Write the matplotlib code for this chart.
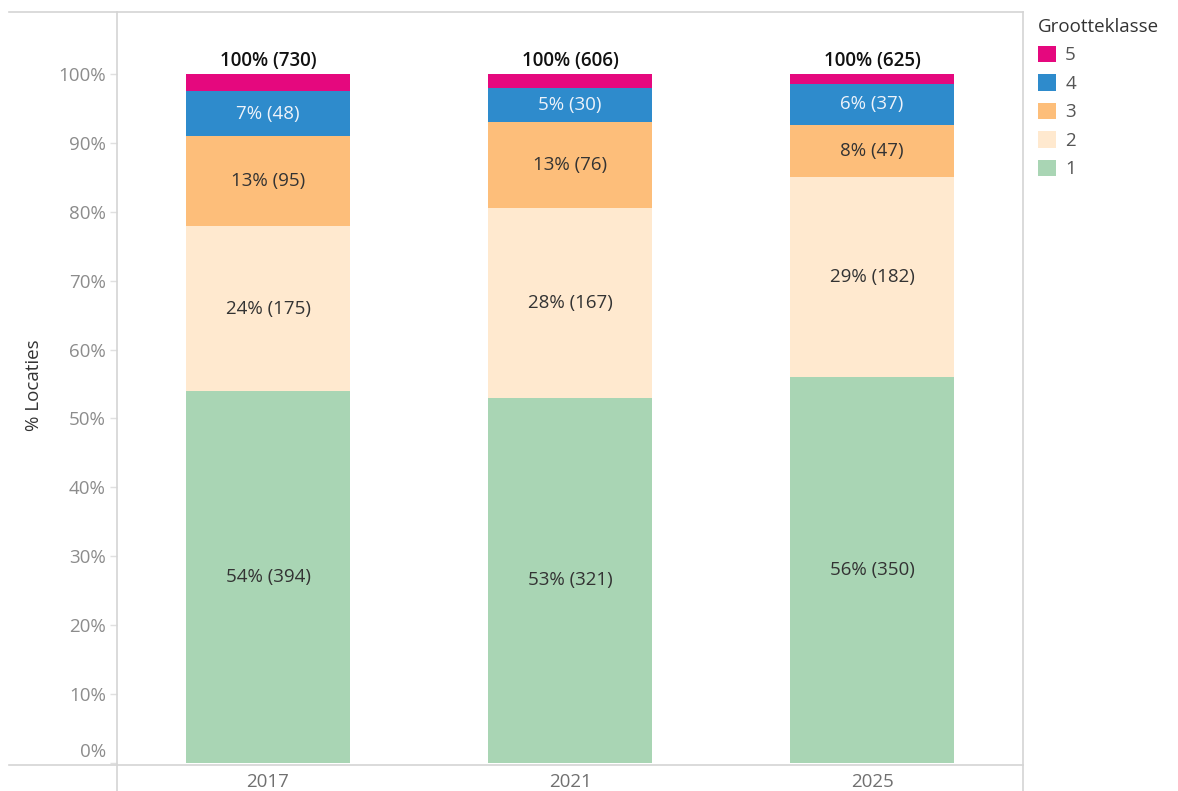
import matplotlib
matplotlib.use("Agg")
import matplotlib.pyplot as plt
import matplotlib.transforms as mtransforms
from matplotlib.patches import Patch
from matplotlib.lines import Line2D

plt.rcParams['font.family'] = ['Open Sans', 'DejaVu Sans']

# data: aantal locaties per grootteklasse
jaren = ['2017', '2021', '2025']
klassen = ['1', '2', '3', '4', '5']
klasse1 = [394, 321, 350]
klasse2 = [175, 167, 182]
klasse3 = [95, 76, 47]
klasse4 = [48, 30, 37]
klasse5 = [18, 12, 9]
totaal = [730, 606, 625]

kleuren = ['#a9d5b4', '#ffe9cf', '#fdbe7a', '#2e8bcc', '#e5087e']
tekstkleur = ['#333333', '#333333', '#333333', '#eef3fa', None]

reeksen = [klasse1, klasse2, klasse3, klasse4, klasse5]
fs = 13.5

fig = plt.figure(figsize=(11.78, 7.91), dpi=100)
W, H = 1178, 791
ax = fig.add_axes([117 / W, 26 / H, (1023 - 117) / W, (765 - 12) / H])

x = list(range(len(jaren)))
onder = [0.0] * len(jaren)
for i, reeks in enumerate(reeksen):
    pct = [100.0 * v / t for v, t in zip(reeks, totaal)]
    ax.bar(x, pct, bottom=onder, width=0.54, color=kleuren[i], linewidth=0)
    if tekstkleur[i] is not None:
        for j in x:
            ax.text(j, onder[j] + pct[j] / 2, f"{round(pct[j])}% ({reeks[j]})",
                    ha='center', va='center', fontsize=fs, color=tekstkleur[i])
    onder = [o + p for o, p in zip(onder, pct)]

for j in x:
    ax.text(j, 100.5, f"100% ({totaal[j]})", ha='center', va='bottom',
            fontsize=fs, color='#111111', fontweight='semibold')

ax.set_xlim(-0.5, 2.5)
ax.set_ylim(-0.3, 109)
ax.set_yticks(range(0, 101, 10))
ax.set_yticklabels([f"{v}%" for v in range(0, 101, 10)])
ax.set_xticks(x)
ax.set_xticklabels(jaren)
ax.tick_params(axis='y', colors='#e0e0e0', labelcolor='#8c8c8c', labelsize=fs,
               length=5, width=1, pad=3)
ax.tick_params(axis='x', length=0, labelcolor='#707070', labelsize=fs, pad=6)
for s in ax.spines.values():
    s.set_visible(False)

# 0% label wordt omhoog geschoven zoals in Tableau
lbl0 = ax.get_yticklabels()[0]
lbl0.set_transform(lbl0.get_transform() +
                   mtransforms.ScaledTranslation(0, 13 / 100, fig.dpi_scale_trans))

ax.set_ylabel('% Locaties', fontsize=fs, color='#333333', labelpad=0)
ax.yaxis.set_label_coords(-74 / 906, (765 - 385) / 753)

# kaderlijnen
lijnkleur = '#d4d4d4'
fig.add_artist(Line2D([9 / W, 1023 / W], [1 - 12 / H, 1 - 12 / H], color=lijnkleur, lw=1.2))
fig.add_artist(Line2D([9 / W, 1023 / W], [1 - 765 / H, 1 - 765 / H], color=lijnkleur, lw=1.2))
fig.add_artist(Line2D([117 / W, 117 / W], [0, 1 - 12 / H], color=lijnkleur, lw=1.2))
fig.add_artist(Line2D([1023 / W, 1023 / W], [0, 1 - 12 / H], color=lijnkleur, lw=1.2))

handles = [Patch(facecolor=kleuren[i], edgecolor='none') for i in range(4, -1, -1)]
labels = [klassen[i] for i in range(4, -1, -1)]
leg = fig.legend(handles, labels, title='Grootteklasse', loc='upper left',
                 bbox_to_anchor=(1038 / W, 1 - 18 / H), frameon=False,
                 fontsize=fs, title_fontsize=fs, handlelength=0.95,
                 handleheight=0.95, handletextpad=0.5, labelspacing=0.53,
                 alignment='left', borderaxespad=0, borderpad=0)
for t in leg.get_texts():
    t.set_color('#555555')
leg.get_title().set_color('#333333')

fig.savefig('out.png', dpi=100)
